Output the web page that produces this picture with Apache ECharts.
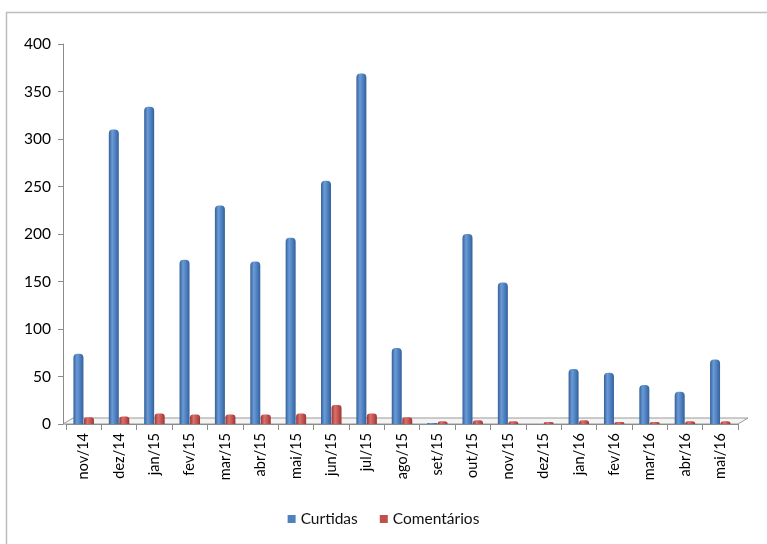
<!DOCTYPE html>
<html>
<head>
<meta charset="utf-8">
<script src="https://cdn.jsdelivr.net/npm/echarts@6/dist/echarts.min.js"></script>
<style>
  html, body { margin: 0; padding: 0; background: #fff; }
  #chart { width: 767px; height: 544px; }
</style>
</head>
<body>
<div id="chart"></div>
<script>
// Monthly likes and comments
const months = ['nov/14','dez/14','jan/15','fev/15','mar/15','abr/15','mai/15','jun/15','jul/15','ago/15',
                'set/15','out/15','nov/15','dez/15','jan/16','fev/16','mar/16','abr/16','mai/16'];
const curtidas = [74, 310, 334, 173, 230, 171, 196, 256, 369, 80, 1, 200, 149, 0, 58, 54, 41, 34, 68];
const comentarios = [7, 8, 11, 10, 10, 10, 11, 20, 11, 7, 3, 4, 3, 2, 4, 2, 2, 3, 3];
const yTicks = [0, 50, 100, 150, 200, 250, 300, 350, 400];

const FONT = 'Lato, "Open Sans", sans-serif';
const GRID = { left: 66, right: 29, top: 44, bottom: 120 };

function cylinder(dark, mid, light) {
  return new echarts.graphic.LinearGradient(0, 0, 1, 0, [
    { offset: 0, color: dark },
    { offset: 0.35, color: light },
    { offset: 0.7, color: mid },
    { offset: 1, color: dark }
  ]);
}

const chart = echarts.init(document.getElementById('chart'), null, { renderer: 'canvas' });

const option = {
  backgroundColor: '#fff',
  animation: false,
  grid: GRID,
  legend: {
    bottom: 12,
    left: 'center',
    itemWidth: 8,
    itemHeight: 8,
    itemGap: 22,
    icon: 'rect',
    textStyle: { fontFamily: FONT, fontSize: 15.5, color: '#111' },
    data: [
      { name: 'Curtidas', itemStyle: { color: '#4F81BD' } },
      { name: 'Comentários', itemStyle: { color: '#C0504D' } }
    ]
  },
  xAxis: {
    type: 'category',
    data: months,
    axisLine: { lineStyle: { color: '#8c8c8c', width: 1 } },
    axisTick: { show: true, length: 6, lineStyle: { color: '#8c8c8c' } },
    axisLabel: { rotate: 90, fontFamily: FONT, fontSize: 14.5, color: '#000', margin: 9 }
  },
  yAxis: {
    type: 'value',
    offset: 3,
    min: yTicks[0],
    max: yTicks[yTicks.length - 1],
    interval: yTicks[1] - yTicks[0],
    axisLine: { show: true, lineStyle: { color: '#8c8c8c', width: 1 } },
    axisTick: { show: true, length: 5, lineStyle: { color: '#8c8c8c' } },
    axisLabel: { fontFamily: FONT, fontSize: 15.5, color: '#000', margin: 12 },
    splitLine: { show: false }
  },
  series: [
    {
      name: 'Curtidas',
      type: 'bar',
      data: curtidas,
      barWidth: 10,
      barGap: '5%',
      z: 3,
      itemStyle: {
        color: cylinder('#35609a', '#4a7dbd', '#6b9bd6'),
        borderRadius: [4, 4, 0, 0]
      }
    },
    {
      name: 'Comentários',
      type: 'bar',
      data: comentarios,
      barWidth: 10,
      z: 3,
      itemStyle: {
        color: cylinder('#9a3532', '#c0504d', '#d9706c'),
        borderRadius: [3, 3, 0, 0]
      }
    }
  ]
};

chart.setOption(option);

// Frame around the chart and a thin perspective floor under the bars
const W = chart.getWidth(), H = chart.getHeight();
const x0 = GRID.left - 3, x1 = W - GRID.right, yb = H - GRID.bottom;
const depthX = 10, depthY = 6;
chart.setOption({
  graphic: [
    {
      type: 'rect', z: -1, silent: true,
      shape: { x: 6.5, y: 12.5, width: W + 20, height: H + 20 },
      style: { fill: 'none', stroke: '#bdbdbd', lineWidth: 1.5 }
    },
    {
      type: 'polygon', z: 0, silent: true,
      shape: { points: [[x0, yb], [x0 + depthX, yb - depthY], [x1 + depthX, yb - depthY], [x1, yb]] },
      style: { fill: '#f4f4f4', stroke: '#9a9a9a', lineWidth: 1 }
    }
  ]
});
</script>
</body>
</html>
